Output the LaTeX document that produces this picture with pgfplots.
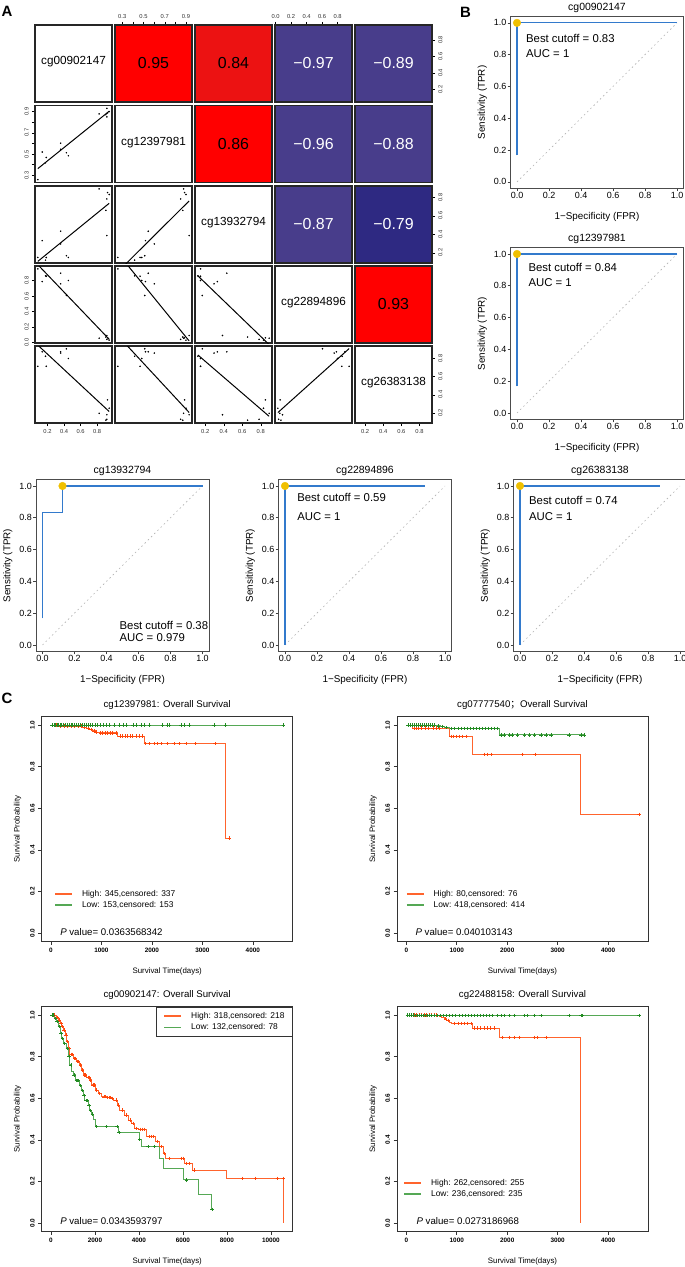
\documentclass[border=0pt]{standalone}
\usepackage{pgfplots}
\usepackage{pgfplotstable}
\pgfplotsset{compat=1.18}
\usepackage{fontspec}
\setmainfont{Liberation Sans}
\newfontfamily\cjk{Noto Sans CJK SC}

\definecolor{cred}{RGB}{255,0,0}
\definecolor{cred84}{RGB}{236,18,18}
\definecolor{cblue}{RGB}{72,61,139}
\definecolor{cblue79}{RGB}{46,41,130}
\definecolor{rocblue}{RGB}{51,122,204}
\definecolor{rocgold}{RGB}{240,192,0}
\definecolor{kmredl}{RGB}{255,100,45}
\definecolor{kmredm}{RGB}{255,70,10}
\definecolor{kmgreenl}{RGB}{85,168,85}
\definecolor{kmgreenm}{RGB}{34,139,34}

\pgfplotstableread{
a b c d e
0.083 0.259 0.149 0.95 0.714
0.136 0.519 0.331 0.786 0.874
0.185 0.468 0.149 0.855 0.714
0.176 0.417 0.12 0.86 0.825
0.359 0.602 0.295 0.757 0.86
0.359 0.545 0.433 0.894 0.874
0.428 0.512 0.168 0.606 0.907
0.452 0.484 0.149 0.80 0.80
0.824 0.878 0.891 0.055 0.196
0.917 0.93 0.386 0.09 0.18
0.925 0.887 0.851 0.06 0.344
0.945 0.90 0.83 0.03 0.252
0.917 0.85 0.782 0.04 0.13
0.905 0.87 0.658 0.07 0.12
}\corr

% ---------- KM 1 ----------
\pgfplotstableread{
t s
0 1
200 0.995
620 0.99
700 0.985
760 0.978
820 0.972
880 0.966
950 0.962
1326 0.947
1850 0.91
3459 0.456
3537 0.456
}\kmAh
\pgfplotstableread{
t s
100 1
180 0.995
260 0.995
330 0.995
400 0.995
470 0.995
540 0.995
600 0.995
660 0.99
730 0.985
790 0.978
850 0.972
900 0.966
980 0.962
1020 0.962
1070 0.962
1120 0.962
1170 0.962
1220 0.962
1290 0.962
1370 0.947
1420 0.947
1470 0.947
1520 0.947
1570 0.947
1620 0.947
1680 0.947
1750 0.947
1800 0.947
1870 0.91
1950 0.91
2047 0.91
2112 0.91
2178 0.91
2309 0.91
2441 0.91
2539 0.91
2671 0.91
2868 0.91
3248 0.91
3537 0.456
}\kmAhc
\pgfplotstableread{
t s
0 1
4606 1
}\kmAl
\pgfplotstableread{
t s
20 1
60 1
90 1
120 1
150 1
180 1
210 1
250 1
280 1
320 1
360 1
400 1
430 1
470 1
500 1
540 1
580 1
620 1
650 1
700 1
740 1
780 1
820 1
870 1
920 1
980 1
1040 1
1100 1
1161 1
1260 1
1358 1
1423 1
1490 1
1621 1
1686 1
1785 1
1850 1
1949 1
2211 1
2309 1
2342 1
2572 1
2638 1
2736 1
3228 1
3458 1
4606 1
}\kmAlc

% ---------- KM 2 ----------
\pgfplotstableread{
t s
0 1
125 0.985
851 0.946
1313 0.859
3446 0.571
4614 0.571
}\kmBh
\pgfplotstableread{
t s
150 0.985
190 0.985
230 0.985
300 0.985
370 0.985
430 0.985
530 0.985
600 0.985
660 0.985
884 0.946
937 0.946
983 0.946
1050 0.946
1115 0.946
1182 0.946
1545 0.859
1610 0.859
1677 0.859
2303 0.859
2554 0.859
4614 0.571
}\kmBhc
\pgfplotstableread{
t s
0 1
600 0.996
680 0.992
760 0.988
860 0.984
1842 0.953
3525 0.953
}\kmBl
\pgfplotstableread{
t s
30 1
70 1
110 1
150 1
190 1
230 1
270 1
310 1
350 1
390 1
430 1
470 1
510 1
560 1
640 0.996
720 0.992
800 0.988
900 0.984
960 0.984
1020 0.984
1080 0.984
1140 0.984
1200 0.984
1260 0.984
1320 0.984
1380 0.984
1440 0.984
1500 0.984
1560 0.984
1620 0.984
1680 0.984
1750 0.984
1810 0.984
1875 0.953
1941 0.953
2040 0.953
2106 0.953
2205 0.953
2337 0.953
2436 0.953
2535 0.953
2667 0.953
2766 0.953
2865 0.953
3228 0.953
3459 0.953
3525 0.953
}\kmBlc

% ---------- KM 3 ----------
\pgfplotstableread{
t s
0 1
230 0.989
330 0.976
410 0.96
480 0.945
560 0.928
640 0.905
710 0.872
790 0.84
860 0.811
1010 0.792
1160 0.776
1310 0.76
1390 0.736
1470 0.712
1620 0.70
1770 0.688
1840 0.664
2000 0.639
2150 0.623
2300 0.607
2520 0.603
2750 0.599
2860 0.591
3010 0.567
3130 0.543
3360 0.519
3510 0.495
3660 0.479
3810 0.455
3960 0.45
4340 0.415
4750 0.391
4950 0.367
5100 0.335
5200 0.311
6080 0.287
6450 0.255
7970 0.215
10570 0.0
}\kmCh
\pgfplotstableread{
t s
150 1
280 0.989
370 0.976
450 0.96
520 0.945
600 0.928
680 0.905
750 0.872
830 0.84
900 0.811
950 0.811
1080 0.792
1120 0.792
1200 0.776
1250 0.776
1350 0.76
1430 0.736
1530 0.712
1580 0.712
1680 0.70
1720 0.70
1800 0.688
1900 0.664
1950 0.664
2080 0.639
2200 0.623
2400 0.607
2450 0.607
2580 0.603
2650 0.603
2700 0.603
2800 0.599
2950 0.591
3080 0.567
3250 0.543
3420 0.519
3600 0.495
3720 0.479
3870 0.455
4050 0.45
4150 0.45
4250 0.45
4450 0.415
4550 0.415
4650 0.415
4850 0.391
5000 0.367
5150 0.335
5400 0.311
5930 0.311
6000 0.311
6150 0.287
6300 0.287
6500 0.255
8710 0.215
9300 0.215
10300 0.215
10570 0.215
}\kmChc
\pgfplotstableread{
t s
0 1
150 0.984
230 0.968
330 0.944
410 0.912
480 0.888
560 0.864
700 0.84
780 0.80
860 0.76
940 0.728
1010 0.712
1090 0.684
1315 0.66
1390 0.636
1470 0.612
1540 0.588
1690 0.564
1770 0.54
1840 0.524
1920 0.50
2000 0.463
3080 0.434
4030 0.402
4110 0.367
4950 0.311
5100 0.263
6020 0.207
6720 0.138
7290 0.066
7330 0.066
}\kmCl
\pgfplotstableread{
t s
50 1
100 1
200 0.984
280 0.968
380 0.944
450 0.912
520 0.888
620 0.864
740 0.84
820 0.80
900 0.76
1050 0.712
1150 0.684
1200 0.684
1250 0.684
1350 0.66
1430 0.636
1500 0.612
1600 0.588
1650 0.588
1730 0.564
1800 0.54
1880 0.524
2070 0.463
2525 0.463
3008 0.463
3100 0.434
4036 0.402
4415 0.367
4717 0.367
6153 0.207
7330 0.066
}\kmClc

% ---------- KM 4 ----------
\pgfplotstableread{
t s
0 1
650 0.995
700 0.99
750 0.982
800 0.975
850 0.966
900 0.96
1310 0.937
1840 0.893
3450 0.0
}\kmDh
\pgfplotstableread{
t s
60 1
100 1
150 1
200 1
250 1
300 1
350 1
400 1
450 1
500 1
550 1
600 1
780 0.982
830 0.975
950 0.96
1020 0.96
1085 0.96
1150 0.96
1215 0.96
1280 0.96
1340 0.937
1406 0.937
1472 0.937
1538 0.937
1604 0.937
1670 0.937
1736 0.937
1906 0.893
2040 0.893
2139 0.893
2238 0.893
2535 0.893
2587 0.893
2766 0.893
}\kmDhc
\pgfplotstableread{
t s
0 1
150 0.997
4614 0.997
}\kmDl
\pgfplotstableread{
t s
20 1
60 1
100 1
140 1
180 0.997
220 0.997
260 0.997
300 0.997
340 0.997
380 0.997
420 0.997
460 0.997
500 0.997
560 0.997
620 0.997
680 0.997
740 0.997
800 0.997
860 0.997
920 0.997
980 0.997
1040 0.997
1100 0.997
1160 0.997
1220 0.997
1280 0.997
1340 0.997
1400 0.997
1460 0.997
1520 0.997
1580 0.997
1640 0.997
1700 0.997
1808 0.997
1875 0.997
1941 0.997
2040 0.997
2139 0.997
2337 0.997
2403 0.997
2535 0.997
2667 0.997
3228 0.997
3459 0.997
3492 0.997
4614 0.997
}\kmDlc

\pgfplotsset{
  cell/.style={scale only axis, width=77bp, height=77bp, anchor=north west,
    xmin=0, xmax=1, ymin=0, ymax=1, xtick=\empty, ytick=\empty,
    axis line style={line width=1.3bp, black!85},
    tick align=outside, major tick length=3.2bp,
    tick style={line width=0.4bp, black},
    tick label style={font=\fontsize{5.8}{6.5}\selectfont, text=black!80, inner sep=3bp}},
  xa/.style={xmin=0.049,xmax=0.979}, ya/.style={ymin=0.049,ymax=0.979},
  xb/.style={xmin=0.232,xmax=0.957}, yb/.style={ymin=0.232,ymax=0.957},
  xc/.style={xmin=0.089,xmax=0.922}, yc/.style={ymin=0.089,ymax=0.922},
  xd/.style={xmin=-0.007,xmax=0.987}, yd/.style={ymin=-0.007,ymax=0.987},
  xe/.style={xmin=0.089,xmax=0.938}, ye/.style={ymin=0.089,ymax=0.938},
  topB/.style={xtick={0.3,0.4,0.5,0.6,0.7,0.8,0.9}, xticklabels={0.3,,0.5,,0.7,,0.9}, xtick pos=right, xticklabel pos=right},
  topD/.style={xtick={0,0.2,0.4,0.6,0.8}, xticklabels={0.0,0.2,0.4,0.6,0.8}, xtick pos=right, xticklabel pos=right},
  leftB/.style={ytick={0.3,0.4,0.5,0.6,0.7,0.8,0.9}, yticklabels={0.3,,0.5,,0.7,,0.9}, ytick pos=left, yticklabel pos=left, yticklabel style={rotate=90, anchor=south}},
  leftD/.style={ytick={0,0.2,0.4,0.6,0.8}, yticklabels={0.0,0.2,0.4,0.6,0.8}, ytick pos=left, yticklabel pos=left, yticklabel style={rotate=90, anchor=south}},
  rightT/.style={ytick={0.2,0.4,0.6,0.8}, yticklabels={0.2,0.4,0.6,0.8}, ytick pos=right, yticklabel pos=right, yticklabel style={rotate=90, anchor=north}},
  botT/.style={xtick={0.2,0.4,0.6,0.8}, xticklabels={0.2,0.4,0.6,0.8}, xtick pos=left, xticklabel pos=left},
  roc/.style={scale only axis, width=172.8bp, height=171.7bp, anchor=north west,
    xmin=-0.04, xmax=1.04, ymin=-0.04, ymax=1.04,
    xtick={0,0.2,0.4,0.6,0.8,1}, ytick={0,0.2,0.4,0.6,0.8,1},
    xticklabels={0.0,0.2,0.4,0.6,0.8,1.0}, yticklabels={0.0,0.2,0.4,0.6,0.8,1.0},
    xtick pos=left, ytick pos=left, tick align=outside, major tick length=3bp,
    tick style={black!75, line width=0.6bp},
    tick label style={font=\fontsize{9}{10}\selectfont, inner sep=1bp},
    axis line style={black!70, line width=0.8bp},
    title style={at={(axis description cs:0.5,1.052)}, anchor=center, yshift=-6pt, font=\fontsize{10.5}{12}\selectfont},
    xlabel={1−Specificity (FPR)}, ylabel={Sensitivity (TPR)},
    label style={font=\fontsize{9.9}{12}\selectfont},
    xlabel style={at={(axis description cs:0.5,-0.165)}, anchor=center},
    ylabel style={at={(axis description cs:-0.164,0.5)}, anchor=center}},
  km/.style={scale only axis, width=251bp, height=224.6bp, anchor=north west,
    ymin=-0.04, ymax=1.04, ytick={0,0.2,0.4,0.6,0.8,1}, yticklabels={0.0,0.2,0.4,0.6,0.8,1.0},
    scaled x ticks=false,
    xtick pos=left, ytick pos=left, tick align=outside, major tick length=3.5bp,
    tick style={black!80, line width=0.6bp},
    tick label style={font=\bfseries\fontsize{6.4}{7}\selectfont},
    yticklabel style={rotate=90, anchor=south},
    axis line style={black!80, line width=0.8bp},
    title style={at={(axis description cs:0.5,1.052)}, anchor=center, yshift=-6pt, font=\fontsize{9.7}{11}\selectfont},
    xlabel={Survival Time(days)}, ylabel={Survival Probability},
    label style={font=\fontsize{7.9}{9}\selectfont},
    xlabel style={at={(axis description cs:0.5,-0.135)}, anchor=center},
    ylabel style={at={(axis description cs:-0.0956,0.5)}, anchor=center},
    legend image code/.code={\draw[#1, line width=1.6bp] (0bp,0bp) -- (17bp,0bp);},
    legend cell align=left,
    legend style={draw=none, fill=none, inner sep=0pt, row sep=1.5bp,
      font=\fontsize{8.45}{10}\selectfont, nodes={inner sep=1bp},
      /tikz/every odd column/.append style={column sep=8bp}}},
}

\newcommand\lowcell[5]{%
\begin{axis}[cell, at={(#1bp,-#2bp)}, x#3, y#4, #5]
\addplot[black, line width=1bp, no marks] table[x=#3, y={create col/linear regression={y=#4}}]{\corr};
\addplot[only marks, mark=*, mark size=0.55bp, black] table[x=#3, y=#4]{\corr};
\end{axis}}
\newcommand\upcell[6]{%
\begin{axis}[cell, at={(#1bp,-#2bp)}, axis background/.style={fill=#3}, #6]
\node[text=#4, font=\fontsize{16}{18}\selectfont] at (rel axis cs:0.5,0.5) {#5};
\end{axis}}
\newcommand\diagcell[4]{%
\begin{axis}[cell, at={(#1bp,-#2bp)}, #4]
\node[font=\fontsize{11.8}{13}\selectfont] at (rel axis cs:0.5,0.52) {#3};
\end{axis}}

\begin{document}
\begin{tikzpicture}
\fill[white] (0,0) rectangle (685bp,-1267bp);
\useasboundingbox (0,0) rectangle (685bp,-1267bp);

\node[font=\bfseries\fontsize{15}{17}\selectfont] at (7bp,-11.5bp) {A};
\node[font=\bfseries\fontsize{15}{17}\selectfont] at (465.5bp,-12bp) {B};
\node[font=\bfseries\fontsize{15}{17}\selectfont] at (7bp,-698.5bp) {C};

% ---- correlation matrix ----
\diagcell{35}{25}{cg00902147}{}
\upcell{115}{25}{cred}{black}{0.95}{xb, topB}
\upcell{195}{25}{cred84}{black}{0.84}{}
\upcell{275}{25}{cblue}{white}{−0.97}{xd, topD}
\upcell{355}{25}{cblue}{white}{−0.89}{ya, rightT}

\lowcell{35}{105.5}{a}{b}{leftB}
\diagcell{115}{105.5}{cg12397981}{}
\upcell{195}{105.5}{cred}{black}{0.86}{}
\upcell{275}{105.5}{cblue}{white}{−0.96}{}
\upcell{355}{105.5}{cblue}{white}{−0.88}{}

\lowcell{35}{186}{a}{c}{}
\lowcell{115}{186}{b}{c}{}
\diagcell{195}{186}{cg13932794}{}
\upcell{275}{186}{cblue}{white}{−0.87}{}
\upcell{355}{186}{cblue79}{white}{−0.79}{yc, rightT}

\lowcell{35}{266}{a}{d}{leftD}
\lowcell{115}{266}{b}{d}{}
\lowcell{195}{266}{c}{d}{}
\diagcell{275}{266}{cg22894896}{}
\upcell{355}{266}{cred}{black}{0.93}{}

\lowcell{35}{346}{a}{e}{botT}
\lowcell{115}{346}{b}{e}{}
\lowcell{195}{346}{c}{e}{botT}
\lowcell{275}{346}{d}{e}{}
\diagcell{355}{346}{cg26383138}{xe, ye, botT, rightT}

% ---- ROC curves ----
\begin{axis}[roc, at={(510.6bp,-16.5bp)}, title={cg00902147}]
\addplot[gray!60, line width=0.6bp, dash pattern=on 1.5bp off 3bp] coordinates {(0,0) (1,1)};
\addplot[rocblue, line width=1.2bp] coordinates {(0,0.167) (0,1) (1,1)};
\addplot[only marks, mark=*, mark size=3.8bp, rocgold] coordinates {(0,1)};
\node[anchor=west, font=\fontsize{11.4}{13}\selectfont] at (axis cs:0.035,0.90) {Best cutoff = 0.83};
\node[anchor=west, font=\fontsize{11.4}{13}\selectfont] at (axis cs:0.035,0.805) {AUC = 1};
\end{axis}

\begin{axis}[roc, at={(510.6bp,-247.6bp)}, title={cg12397981}]
\addplot[gray!60, line width=0.6bp, dash pattern=on 1.5bp off 3bp] coordinates {(0,0) (1,1)};
\addplot[rocblue, line width=1.2bp] coordinates {(0,0.167) (0,1) (1,1)};
\addplot[only marks, mark=*, mark size=3.8bp, rocgold] coordinates {(0,1)};
\node[anchor=west, font=\fontsize{11.4}{13}\selectfont] at (axis cs:0.05,0.918) {Best cutoff = 0.84};
\node[anchor=west, font=\fontsize{11.4}{13}\selectfont] at (axis cs:0.05,0.817) {AUC = 1};
\end{axis}

\begin{axis}[roc, at={(36.1bp,-479.6bp)}, title={cg13932794}]
\addplot[gray!60, line width=0.6bp, dash pattern=on 1.5bp off 3bp] coordinates {(0,0) (1,1)};
\addplot[rocblue, line width=1.2bp] coordinates {(0,0.167) (0,0.833) (0.125,0.833) (0.125,1) (1,1)};
\addplot[only marks, mark=*, mark size=3.8bp, rocgold] coordinates {(0.125,1)};
\node[anchor=west, font=\fontsize{11.4}{13}\selectfont] at (axis cs:0.46,0.125) {Best cutoff = 0.38};
\node[anchor=west, font=\fontsize{11.4}{13}\selectfont] at (axis cs:0.46,0.044) {AUC = 0.979};
\end{axis}

\begin{axis}[roc, at={(278.6bp,-479.6bp)}, title={cg22894896}]
\addplot[gray!60, line width=0.6bp, dash pattern=on 1.5bp off 3bp] coordinates {(0,0) (1,1)};
\addplot[rocblue, line width=1.2bp] coordinates {(0,0) (0,1) (0.875,1)};
\addplot[only marks, mark=*, mark size=3.8bp, rocgold] coordinates {(0,1)};
\node[anchor=west, font=\fontsize{11.4}{13}\selectfont] at (axis cs:0.055,0.925) {Best cutoff = 0.59};
\node[anchor=west, font=\fontsize{11.4}{13}\selectfont] at (axis cs:0.055,0.81) {AUC = 1};
\end{axis}

\begin{axis}[roc, at={(513.6bp,-479.6bp)}, title={cg26383138}]
\addplot[gray!60, line width=0.6bp, dash pattern=on 1.5bp off 3bp] coordinates {(0,0) (1,1)};
\addplot[rocblue, line width=1.2bp] coordinates {(0,0) (0,1) (0.875,1)};
\addplot[only marks, mark=*, mark size=3.8bp, rocgold] coordinates {(0,1)};
\node[anchor=west, font=\fontsize{11.4}{13}\selectfont] at (axis cs:0.035,0.91) {Best cutoff = 0.74};
\node[anchor=west, font=\fontsize{11.4}{13}\selectfont] at (axis cs:0.035,0.81) {AUC = 1};
\end{axis}

% ---- KM 1 ----
\begin{axis}[km, at={(41.7bp,-716.7bp)}, xmin=-184, xmax=4790,
  xtick={0,1000,2000,3000,4000}, xticklabels={0,1000,2000,3000,4000},
  title={cg12397981: Overall Survival},
  legend style={at={(axis description cs:0.05,0.233)}, anchor=north west}]
\addplot[kmredl, const plot, line width=0.9bp] table[x=t,y=s]{\kmAh};
\addlegendentry{High: 345,censored: 337}
\addplot[kmgreenl, const plot, line width=0.9bp] table[x=t,y=s]{\kmAl};
\addlegendentry{Low: 153,censored: 153}
\addplot[forget plot, only marks, mark=+, kmredm, mark size=1.7bp, line width=0.5bp] table[x=t,y=s]{\kmAhc};
\addplot[forget plot, only marks, mark=+, kmgreenm, mark size=1.7bp, line width=0.5bp] table[x=t,y=s]{\kmAlc};
\node[anchor=west, font=\fontsize{9.7}{11}\selectfont] at (axis description cs:0.06,0.043) {\textit{P} value= 0.0363568342};
\end{axis}

% ---- KM 2 ----
\begin{axis}[km, at={(397bp,-716.7bp)}, xmin=-184, xmax=4790,
  xtick={0,1000,2000,3000,4000}, xticklabels={0,1000,2000,3000,4000},
  title={cg07777540{\cjk ；}Overall Survival},
  legend style={at={(axis description cs:0.035,0.233)}, anchor=north west}]
\addplot[kmredl, const plot, line width=0.9bp] table[x=t,y=s]{\kmBh};
\addlegendentry{High: 80,censored: 76}
\addplot[kmgreenl, const plot, line width=0.9bp] table[x=t,y=s]{\kmBl};
\addlegendentry{Low: 418,censored: 414}
\addplot[forget plot, only marks, mark=+, kmredm, mark size=1.7bp, line width=0.5bp] table[x=t,y=s]{\kmBhc};
\addplot[forget plot, only marks, mark=+, kmgreenm, mark size=1.7bp, line width=0.5bp] table[x=t,y=s]{\kmBlc};
\node[anchor=west, font=\fontsize{9.7}{11}\selectfont] at (axis description cs:0.06,0.043) {\textit{P} value= 0.040103143};
\end{axis}

% ---- KM 3 ----
\begin{axis}[km, at={(41.7bp,-1006.7bp)}, xmin=-423, xmax=10993,
  xtick={0,2000,4000,6000,8000,10000}, xticklabels={0,2000,4000,6000,8000,10000},
  title={cg00902147: Overall Survival},
  legend style={at={(axis description cs:1,1)}, anchor=north east, draw=black!80, fill=white,
    inner xsep=7bp, inner ysep=4.5bp}]
\addplot[kmredl, const plot, line width=0.9bp] table[x=t,y=s]{\kmCh};
\addlegendentry{High: 318,censored: 218\hspace{12bp}}
\addplot[kmgreenl, const plot, line width=0.9bp] table[x=t,y=s]{\kmCl};
\addlegendentry{Low: 132,censored: 78}
\addplot[forget plot, only marks, mark=+, kmredm, mark size=1.7bp, line width=0.5bp] table[x=t,y=s]{\kmChc};
\addplot[forget plot, only marks, mark=+, kmgreenm, mark size=1.7bp, line width=0.5bp] table[x=t,y=s]{\kmClc};
\node[anchor=west, font=\fontsize{9.7}{11}\selectfont] at (axis description cs:0.06,0.046) {\textit{P} value= 0.0343593797};
\end{axis}

% ---- KM 4 ----
\begin{axis}[km, at={(397bp,-1006.7bp)}, xmin=-184, xmax=4790,
  xtick={0,1000,2000,3000,4000}, xticklabels={0,1000,2000,3000,4000},
  title={cg22488158: Overall Survival},
  legend style={at={(axis description cs:0.025,0.237)}, anchor=north west}]
\addplot[kmredl, const plot, line width=0.9bp] table[x=t,y=s]{\kmDh};
\addlegendentry{High: 262,censored: 255}
\addplot[kmgreenl, const plot, line width=0.9bp] table[x=t,y=s]{\kmDl};
\addlegendentry{Low: 236,censored: 235}
\addplot[forget plot, only marks, mark=+, kmredm, mark size=1.7bp, line width=0.5bp] table[x=t,y=s]{\kmDhc};
\addplot[forget plot, only marks, mark=+, kmgreenm, mark size=1.7bp, line width=0.5bp] table[x=t,y=s]{\kmDlc};
\node[anchor=west, font=\fontsize{9.7}{11}\selectfont] at (axis description cs:0.064,0.046) {\textit{P} value= 0.0273186968};
\end{axis}

\end{tikzpicture}
\end{document}
